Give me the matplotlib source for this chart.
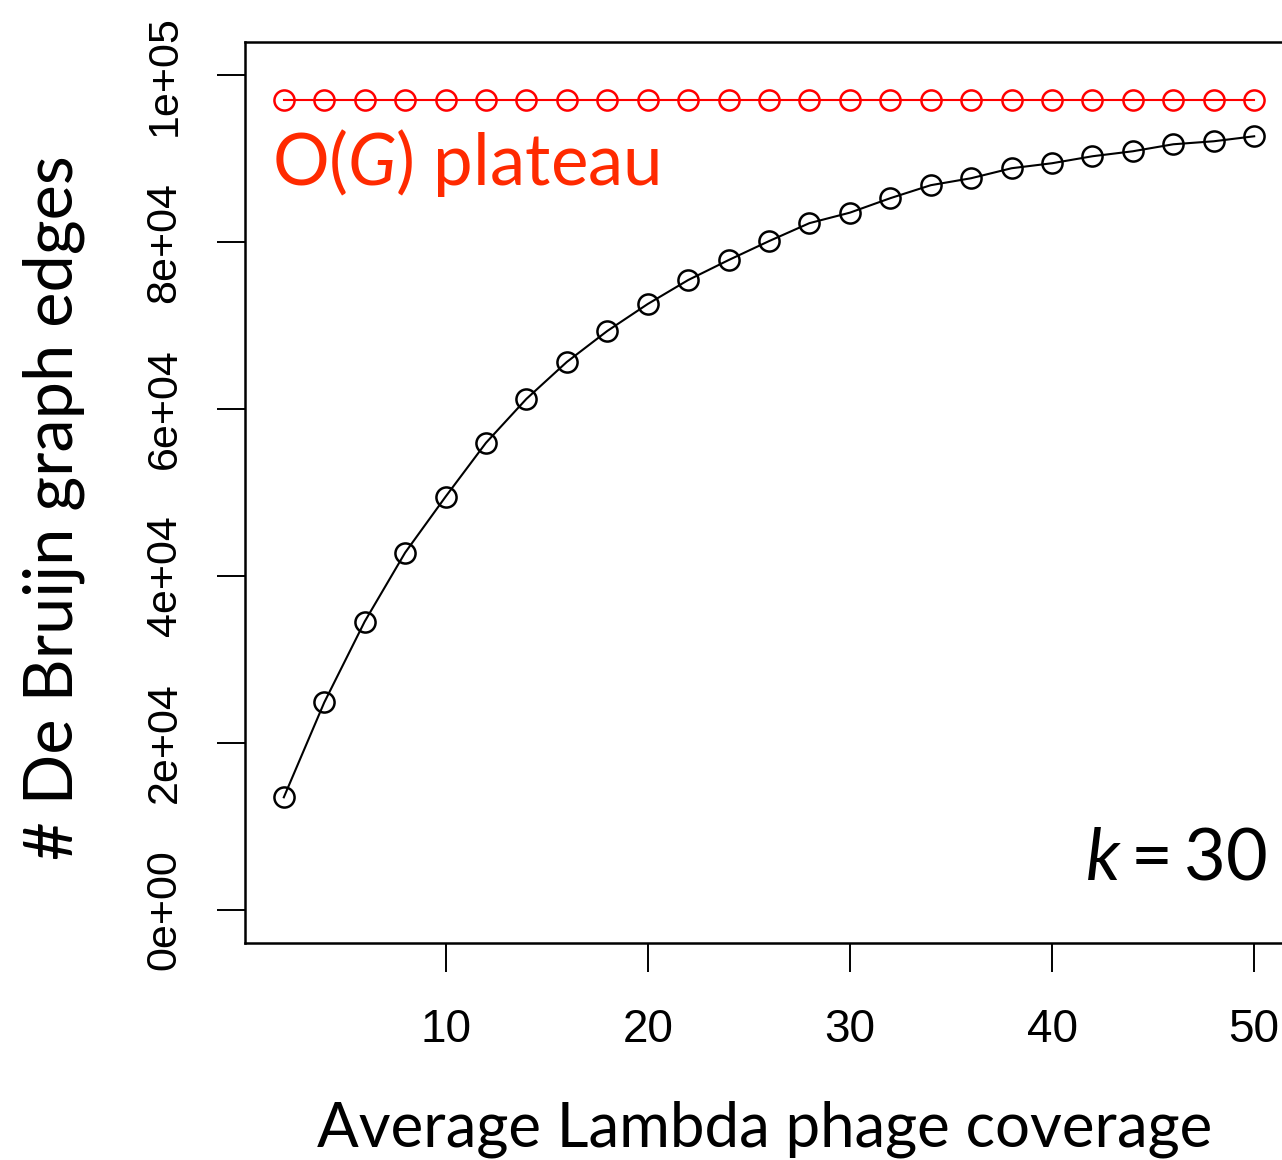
import matplotlib
matplotlib.use("Agg")
import matplotlib.pyplot as plt

# coverage values and number of de Bruijn graph edges (k = 30)
coverage = [2, 4, 6, 8, 10, 12, 14, 16, 18, 20, 22, 24, 26,
            28, 30, 32, 34, 36, 38, 40, 42, 44, 46, 48, 50]
edges = [13465, 24835, 34530, 42789, 49491, 55955, 61221, 65649, 69360,
         72591, 75464, 77858, 80132, 82286, 83543, 85278, 86834, 87672,
         88869, 89467, 90305, 90903, 91742, 92101, 92699]
plateau = [97000] * len(coverage)

x_ticks = [10, 20, 30, 40, 50]
y_ticks = [0, 20000, 40000, 60000, 80000, 100000]
y_tick_labels = ["0e+00", "2e+04", "4e+04", "6e+04", "8e+04", "1e+05"]

W, H = 1282, 1160
plt.rcParams['mathtext.fontset'] = 'custom'
plt.rcParams['mathtext.rm'] = 'Lato'
plt.rcParams['mathtext.it'] = 'Lato:italic'

fig = plt.figure(figsize=(W / 100, H / 100), dpi=100)
# right edge of the box falls just outside the picture, as in the original
ax = fig.add_axes([245 / W, 1 - 943 / H, (1293 - 245) / W, (943 - 42) / H])

ax.plot(coverage, plateau, color='red', lw=1.5, marker='o', ms=14.5,
        mfc='none', mew=1.8)
ax.plot(coverage, edges, color='black', lw=1.5, marker='o', ms=14.5,
        mfc='none', mew=1.8)

ax.set_xlim(0.08, 51.92)
ax.set_ylim(-4000, 104000)

for s in ax.spines.values():
    s.set_linewidth(1.8)

ax.set_xticks(x_ticks, labels=[str(v) for v in x_ticks],
              fontfamily='Liberation Sans', fontsize=33)
ax.set_yticks(y_ticks, labels=y_tick_labels, fontfamily='Liberation Sans',
              fontsize=31, rotation=90, rotation_mode='anchor',
              ha='center', va='baseline')
ax.tick_params(axis='x', length=21, width=1.4, pad=26)
ax.tick_params(axis='y', length=20, width=1.4, pad=30)

fig.text(765 / W, 1 - 1147 / H, "Average Lambda phage coverage",
         family='Lato', fontsize=44.5, ha='center', va='baseline')
fig.text(73 / W, 1 - 508 / H, "# De Bruijn graph edges", family='Lato',
         fontsize=48, rotation=90, rotation_mode='anchor',
         ha='center', va='baseline')

fig.text(272 / W, 1 - 185 / H, r"O($\mathit{G}$) plateau", family='Lato',
         fontsize=51, color='#ff2a00', ha='left', va='baseline')
fig.text(1267 / W, 1 - 880 / H, r"$k = 30$", family='Lato',
         fontsize=52, color='black', ha='right', va='baseline')

fig.savefig("out.png", dpi=100)
